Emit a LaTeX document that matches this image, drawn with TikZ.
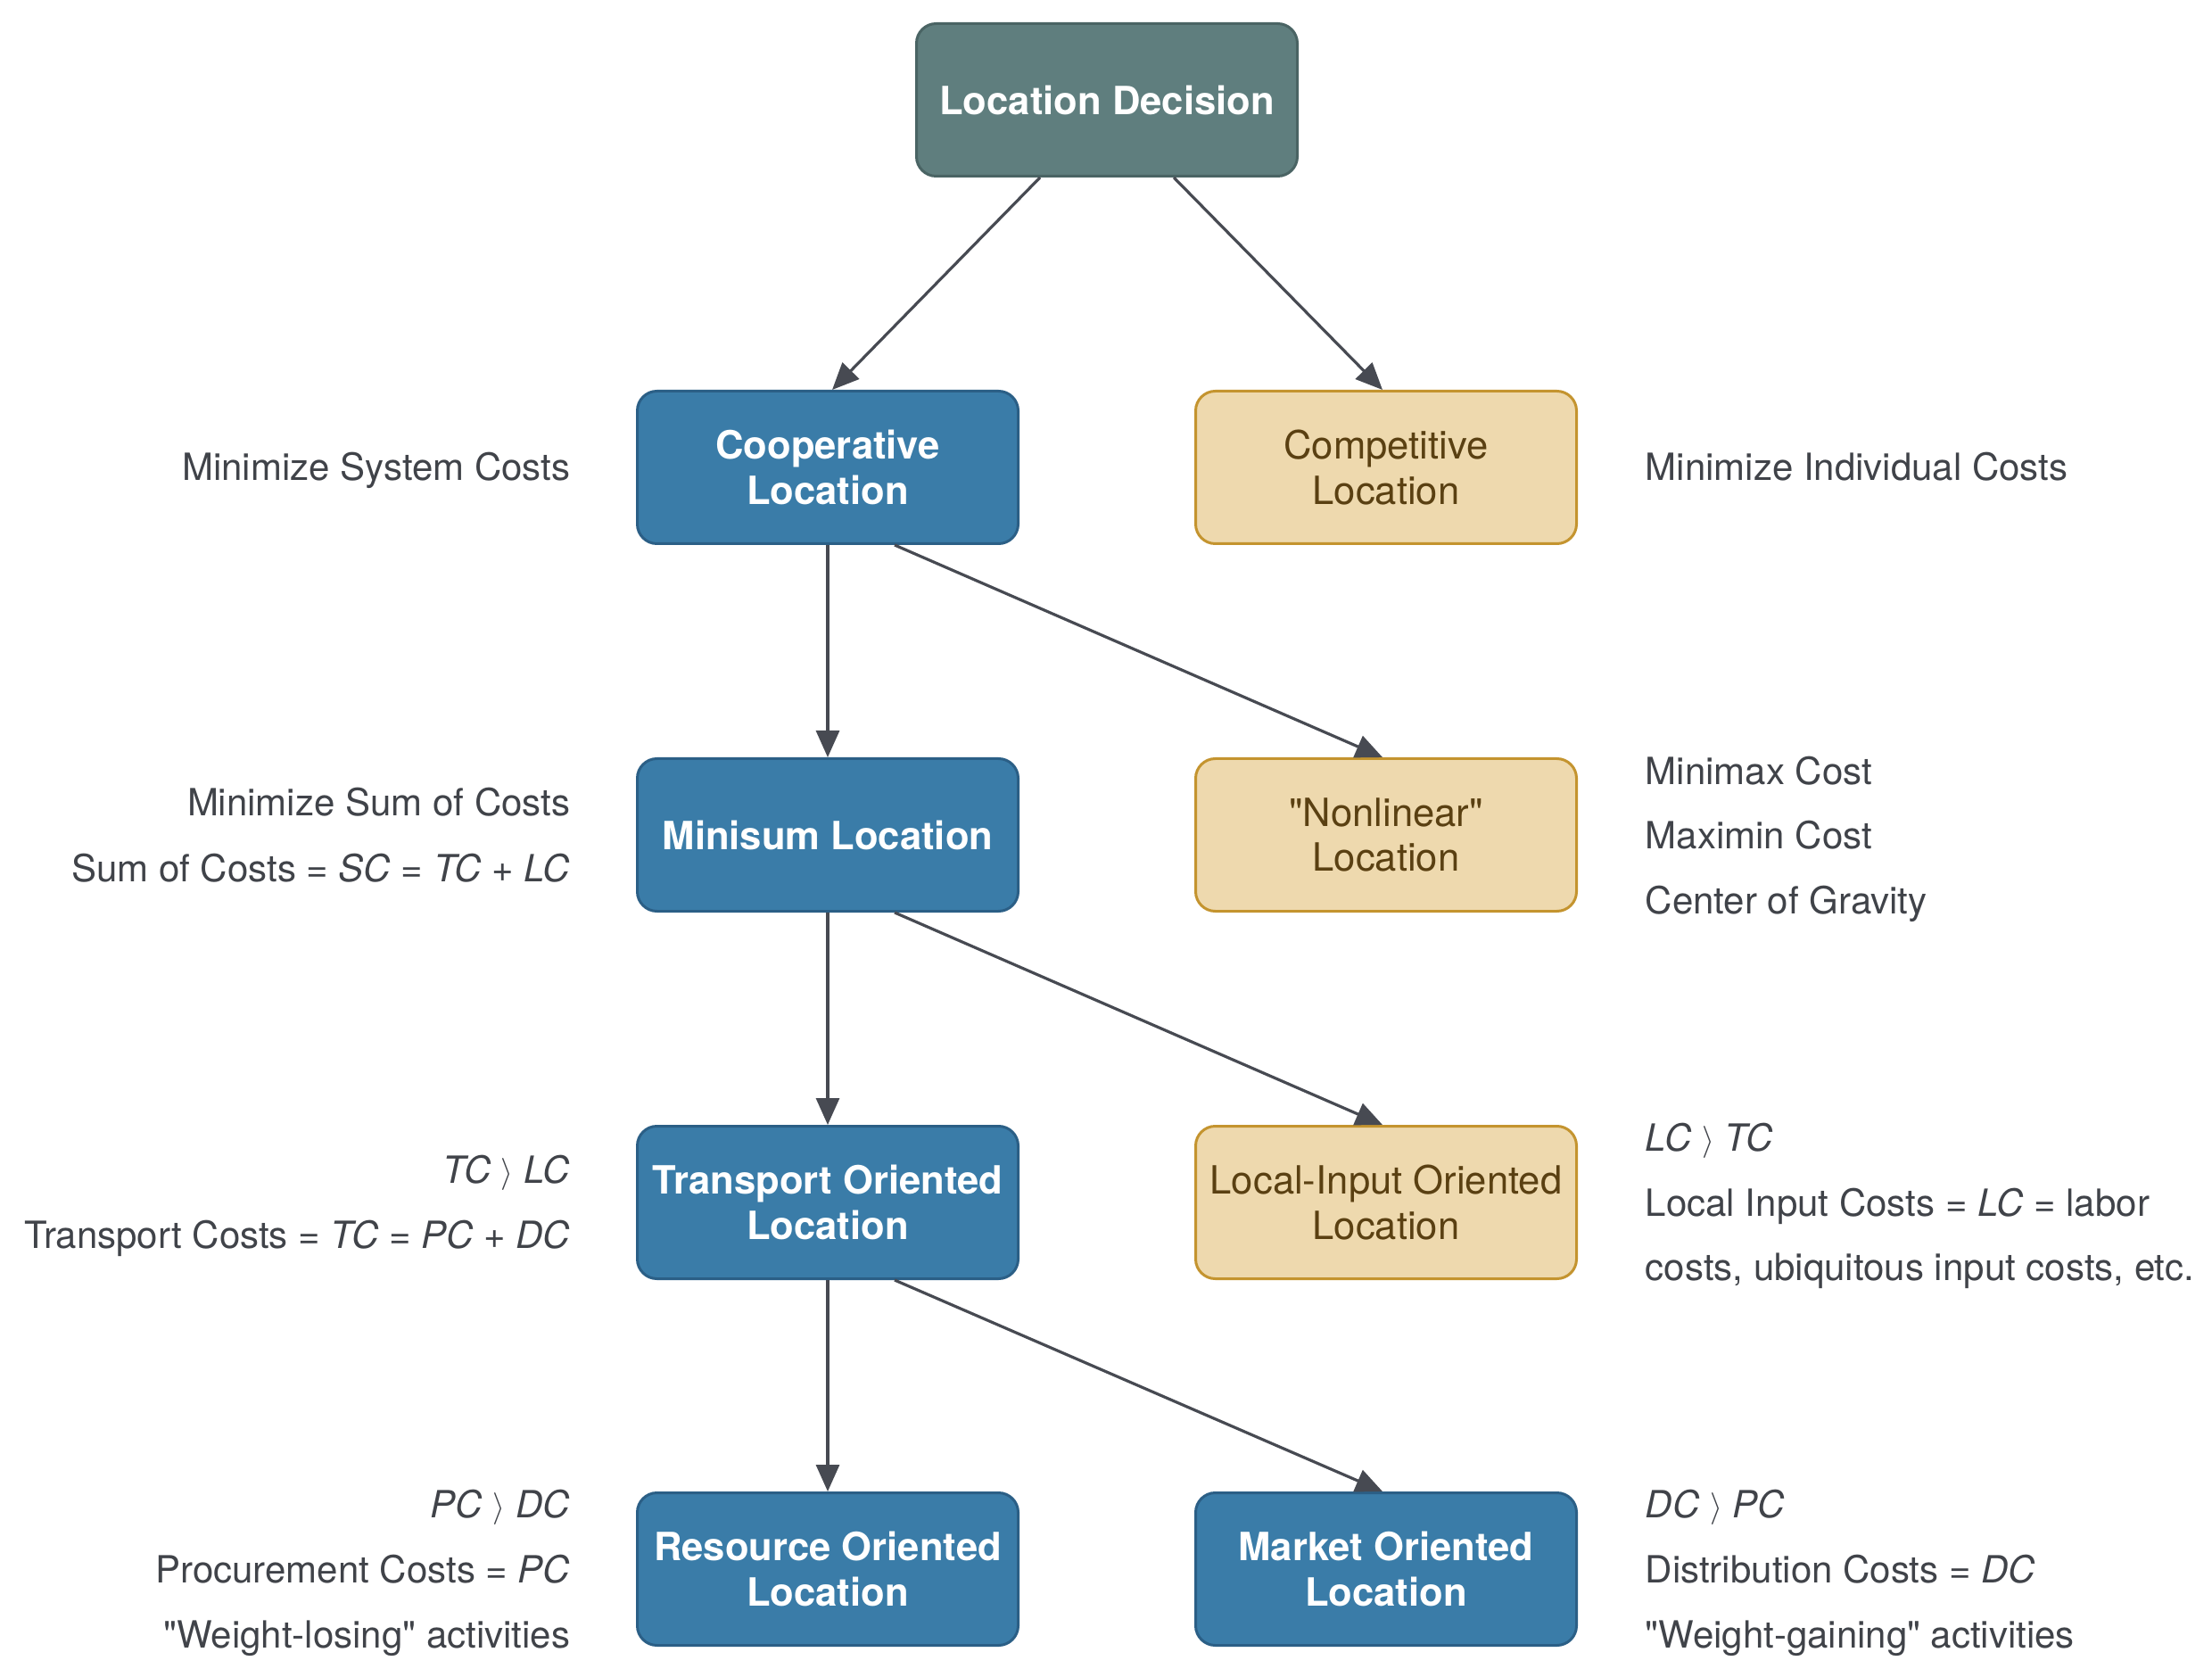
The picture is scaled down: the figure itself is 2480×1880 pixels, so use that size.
\documentclass[tikz,border=0pt]{standalone}
\usepackage{fontspec}
\setmainfont{TeX Gyre Heros}[Ligatures=TeXOff]
\usetikzlibrary{arrows.meta,calc}
\definecolor{topfill}{HTML}{5F7E7E}
\definecolor{topdraw}{HTML}{4A6464}
\definecolor{bluefill}{HTML}{3A7CA8}
\definecolor{bluedraw}{HTML}{2B5F86}
\definecolor{tanfill}{HTML}{EED9AE}
\definecolor{tandraw}{HTML}{C4942F}
\definecolor{tantext}{HTML}{5A4012}
\definecolor{labeltext}{HTML}{404349}
\definecolor{arrowc}{HTML}{474A52}
\newcommand{\gtr}{ \raisebox{0.02em}{\scalebox{0.82}{$\rangle$}} }
\begin{document}
\begin{tikzpicture}[x=0.25pt,y=-0.25pt,
  box/.style={rounded corners=5.5pt, line width=0.75pt, minimum width=106.75pt,
    minimum height=42.75pt, align=center, inner sep=0pt},
  topbox/.style={box, fill=topfill, draw=topdraw, text=white,
    font=\bfseries\fontsize{10.9}{12.6}\selectfont},
  bluebox/.style={box, fill=bluefill, draw=bluedraw, text=white,
    font=\bfseries\fontsize{10.9}{12.6}\selectfont},
  tanbox/.style={box, fill=tanfill, draw=tandraw, text=tantext,
    font=\fontsize{10.9}{12.6}\selectfont},
  lab/.style={text=labeltext, inner sep=0pt, font=\fontsize{10.5}{12.6}\selectfont},
  labl/.style={lab, anchor=base east},
  labr/.style={lab, anchor=base west},
  conn/.style={draw=arrowc, line width=0.8pt, -{Triangle[length=7.5pt,width=6.5pt]}}]
\useasboundingbox (0,0) rectangle (2480,1880);

\node[topbox] (top) at (1241,112) {Location Decision};
\node[bluebox] (coop) at (928,524) {Cooperative\\Location};
\node[tanbox] (comp) at (1554,524) {Competitive\\Location};
\node[bluebox] (minisum) at (928,936) {Minisum Location};
\node[tanbox] (nonlin) at (1554,936) {"Nonlinear"\\Location};
\node[bluebox] (transport) at (928,1348) {Transport Oriented\\Location};
\node[tanbox] (localin) at (1554,1348) {Local-Input Oriented\\Location};
\node[bluebox] (resource) at (928,1759) {Resource Oriented\\Location};
\node[bluebox] (market) at (1554,1759) {Market Oriented\\Location};

\node[labl] (l2a) at (640,539) {Minimize System Costs};
\node[labr] (r2a) at (1844,539) {Minimize Individual Costs};

\node[labl] (l3a) at (640,915) {Minimize Sum of Costs};
\node[labl] (l3b) at (640,988) {Sum of Costs = \textit{SC} = \textit{TC} + \textit{LC}};
\node[labr] (r3a) at (1844,879) {Minimax Cost};
\node[labr] (r3b) at (1844,951) {Maximin Cost};
\node[labr] (r3c) at (1844,1024) {Center of Gravity};

\node[labl] (l4a) at (640,1326) {\textit{TC\gtr LC}};
\node[labl] (l4b) at (640,1399) {Transport Costs = \textit{TC} = \textit{PC} + \textit{DC}};
\node[labr] (r4a) at (1844,1290) {\textit{LC\gtr TC}};
\node[labr] (r4b) at (1844,1363) {Local Input Costs = \textit{LC} = labor};
\node[labr] (r4c) at (1844,1435) {costs, ubiquitous input costs, etc.};

\node[labl] (l5a) at (640,1701) {\textit{PC\gtr DC}};
\node[labl] (l5b) at (640,1774) {Procurement Costs = \textit{PC}};
\node[labl] (l5c) at (640,1847) {"Weight-losing" activities};
\node[labr] (r5a) at (1844,1701) {\textit{DC\gtr PC}};
\node[labr] (r5b) at (1844,1774) {Distribution Costs = \textit{DC}};
\node[labr] (r5c) at (1844,1847) {"Weight-gaining" activities};

\draw[conn] ($(top.south)+(-75,0)$) -- ($(coop.north)+(5,0)$);
\draw[conn] ($(top.south)+(75,0)$) -- ($(comp.north)+(-4,0)$);
\draw[conn] (coop.south) -- (minisum.north);
\draw[conn] ($(coop.south)+(75,0)$) -- ($(nonlin.north)+(-4,0)$);
\draw[conn] (minisum.south) -- (transport.north);
\draw[conn] ($(minisum.south)+(75,0)$) -- ($(localin.north)+(-4,0)$);
\draw[conn] (transport.south) -- (resource.north);
\draw[conn] ($(transport.south)+(75,0)$) -- ($(market.north)+(-4,0)$);
\end{tikzpicture}
\end{document}
